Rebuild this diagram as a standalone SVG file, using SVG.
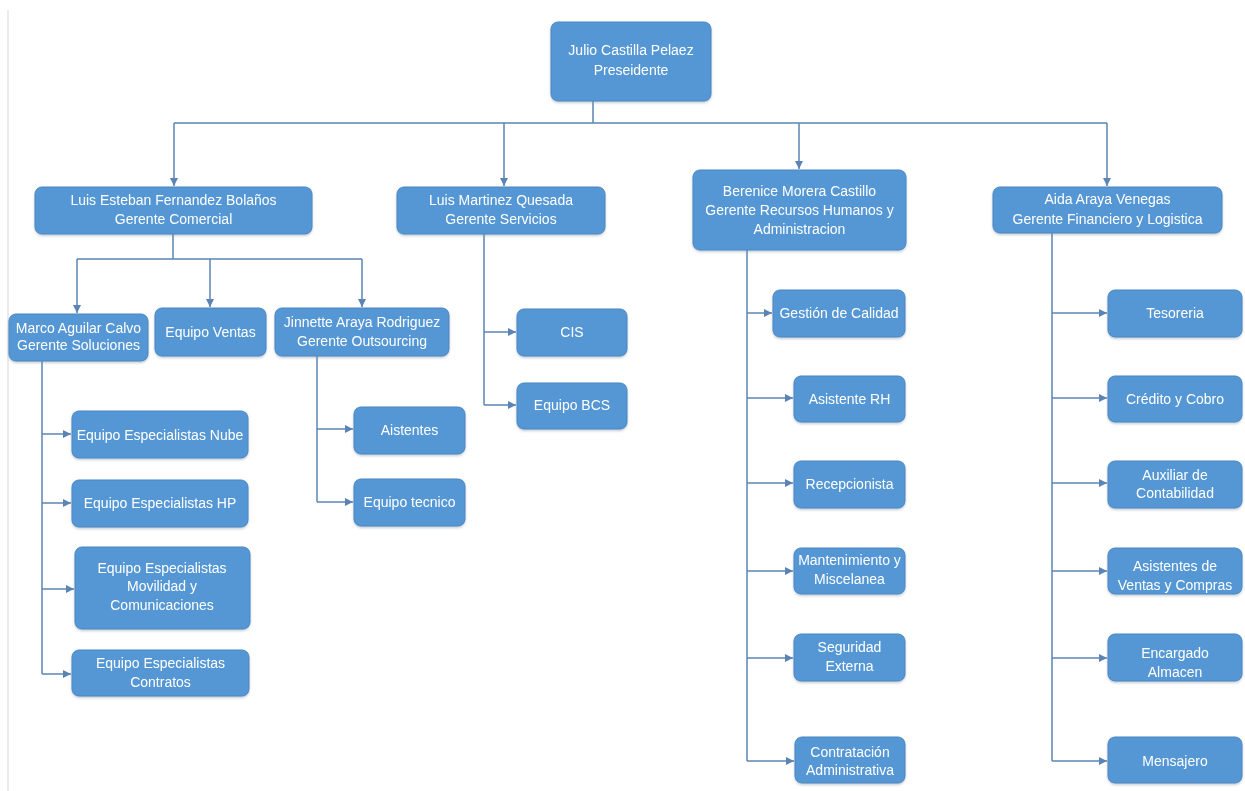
<svg xmlns="http://www.w3.org/2000/svg" width="1245" height="791" viewBox="0 0 1245 791">
<style>
.box{fill:#5597d5;stroke:#4a87c2;stroke-width:1}
.t{font-family:"Liberation Sans",Arial,sans-serif;font-size:14px;fill:#ffffff;text-anchor:middle}
.c{fill:none;stroke:#5b84b5;stroke-width:1.5}
.a{fill:none;stroke:#5b84b5;stroke-width:1.5;marker-end:url(#ah)}
</style>
<defs>
<marker id="ah" markerUnits="userSpaceOnUse" markerWidth="10" markerHeight="10" refX="8" refY="4" orient="auto">
<path d="M0,0 L8,4 L0,8 Z" fill="#5b84b5"/>
</marker>
<filter id="sh" x="-10%" y="-10%" width="120%" height="130%">
<feDropShadow dx="0" dy="1.5" stdDeviation="1.2" flood-color="#7a8ea5" flood-opacity="0.45"/>
</filter>
</defs>
<rect width="1245" height="791" fill="#ffffff"/>
<line x1="8" y1="10" x2="8" y2="791" stroke="#e4e4e4" stroke-width="1.5"/>

<g id="connectors">
<path class="c" d="M593,101 V123 M174,123 H1107"/>
<path class="a" d="M174,123 V186"/>
<path class="a" d="M504,123 V186"/>
<path class="a" d="M799,123 V169"/>
<path class="a" d="M1107,123 V186"/>

<path class="c" d="M173,234 V259 M77,259 H362"/>
<path class="a" d="M77,259 V313"/>
<path class="a" d="M210,259 V307"/>
<path class="a" d="M362,259 V307"/>

<path class="c" d="M42,361 V674"/>
<path class="a" d="M42,434 H71"/>
<path class="a" d="M42,503 H71"/>
<path class="a" d="M42,589 H74"/>
<path class="a" d="M42,674 H71"/>

<path class="c" d="M317,356 V502"/>
<path class="a" d="M317,429 H353"/>
<path class="a" d="M317,502 H353"/>

<path class="c" d="M484,234 V405"/>
<path class="a" d="M484,332 H516"/>
<path class="a" d="M484,405 H516"/>

<path class="c" d="M747,250 V761"/>
<path class="a" d="M747,313 H772"/>
<path class="a" d="M747,398 H793"/>
<path class="a" d="M747,483 H793"/>
<path class="a" d="M747,571 H793"/>
<path class="a" d="M747,658 H793"/>
<path class="a" d="M747,761 H794"/>

<path class="c" d="M1052,233 V761"/>
<path class="a" d="M1052,313 H1107"/>
<path class="a" d="M1052,398 H1107"/>
<path class="a" d="M1052,483 H1107"/>
<path class="a" d="M1052,571 H1107"/>
<path class="a" d="M1052,658 H1107"/>
<path class="a" d="M1052,761 H1107"/>
</g>

<g id="n-julio" filter="url(#sh)"><rect class="box" x="551" y="22" width="160" height="79" rx="7"/>
<text class="t" x="631" y="55">Julio Castilla Pelaez</text><text class="t" x="631" y="75">Preseidente</text></g>

<g id="n-luis-esteban" filter="url(#sh)"><rect class="box" x="35" y="187" width="277" height="47" rx="7"/>
<text class="t" x="173.5" y="205">Luis Esteban Fernandez Bolaños</text><text class="t" x="173.5" y="224">Gerente Comercial</text></g>

<g id="n-luis-martinez" filter="url(#sh)"><rect class="box" x="397" y="187" width="208" height="47" rx="7"/>
<text class="t" x="501" y="205">Luis Martinez Quesada</text><text class="t" x="501" y="224">Gerente Servicios</text></g>

<g id="n-berenice" filter="url(#sh)"><rect class="box" x="693" y="170" width="213" height="80" rx="7"/>
<text class="t" x="799.5" y="196">Berenice Morera Castillo</text><text class="t" x="799.5" y="215">Gerente Recursos Humanos y</text><text class="t" x="799.5" y="234">Administracion</text></g>

<g id="n-aida" filter="url(#sh)"><rect class="box" x="993" y="187" width="229" height="46" rx="7"/>
<text class="t" x="1107.5" y="204">Aida Araya Venegas</text><text class="t" x="1107.5" y="224">Gerente Financiero y Logistica</text></g>

<g id="n-marco" filter="url(#sh)"><rect class="box" x="9" y="314" width="139" height="47" rx="7"/>
<text class="t" x="78.5" y="333">Marco Aguilar Calvo</text><text class="t" x="78.5" y="350">Gerente Soluciones</text></g>

<g id="n-equipo-ventas" filter="url(#sh)"><rect class="box" x="155" y="308" width="111" height="48" rx="7"/>
<text class="t" x="210.5" y="337">Equipo Ventas</text></g>

<g id="n-jinnette" filter="url(#sh)"><rect class="box" x="275" y="308" width="174" height="48" rx="7"/>
<text class="t" x="362" y="327">Jinnette Araya Rodriguez</text><text class="t" x="362" y="346">Gerente Outsourcing</text></g>

<g id="n-nube" filter="url(#sh)"><rect class="box" x="72" y="411" width="176" height="47" rx="7"/>
<text class="t" x="160" y="440">Equipo Especialistas Nube</text></g>

<g id="n-hp" filter="url(#sh)"><rect class="box" x="72" y="480" width="176" height="47" rx="7"/>
<text class="t" x="160" y="508">Equipo Especialistas HP</text></g>

<g id="n-movilidad" filter="url(#sh)"><rect class="box" x="75" y="547" width="175" height="82" rx="7"/>
<text class="t" x="162" y="573">Equipo Especialistas</text><text class="t" x="162" y="591">Movilidad y</text><text class="t" x="162" y="610">Comunicaciones</text></g>

<g id="n-contratos" filter="url(#sh)"><rect class="box" x="72" y="650" width="177" height="46" rx="7"/>
<text class="t" x="160.5" y="668">Equipo Especialistas</text><text class="t" x="160.5" y="687">Contratos</text></g>

<g id="n-aistentes" filter="url(#sh)"><rect class="box" x="354" y="407" width="111" height="47" rx="7"/>
<text class="t" x="409.5" y="435">Aistentes</text></g>

<g id="n-equipo-tecnico" filter="url(#sh)"><rect class="box" x="354" y="479" width="111" height="47" rx="7"/>
<text class="t" x="409.5" y="507">Equipo tecnico</text></g>

<g id="n-cis" filter="url(#sh)"><rect class="box" x="517" y="309" width="110" height="47" rx="7"/>
<text class="t" x="572" y="337">CIS</text></g>

<g id="n-bcs" filter="url(#sh)"><rect class="box" x="517" y="383" width="110" height="46" rx="7"/>
<text class="t" x="572" y="410">Equipo BCS</text></g>

<g id="n-gestion" filter="url(#sh)"><rect class="box" x="773" y="290" width="132" height="47" rx="7"/>
<text class="t" x="839" y="318">Gestión de Calidad</text></g>

<g id="n-asistente-rh" filter="url(#sh)"><rect class="box" x="794" y="376" width="111" height="46" rx="7"/>
<text class="t" x="849.5" y="404">Asistente RH</text></g>

<g id="n-recepcionista" filter="url(#sh)"><rect class="box" x="794" y="461" width="111" height="47" rx="7"/>
<text class="t" x="849.5" y="489">Recepcionista</text></g>

<g id="n-mantenimiento" filter="url(#sh)"><rect class="box" x="794" y="548" width="111" height="46" rx="7"/>
<text class="t" x="849.5" y="565">Mantenimiento y</text><text class="t" x="849.5" y="584">Miscelanea</text></g>

<g id="n-seguridad" filter="url(#sh)"><rect class="box" x="794" y="634" width="111" height="47" rx="7"/>
<text class="t" x="849.5" y="652">Seguridad</text><text class="t" x="849.5" y="671">Externa</text></g>

<g id="n-contratacion" filter="url(#sh)"><rect class="box" x="795" y="737" width="110" height="46" rx="7"/>
<text class="t" x="850" y="757">Contratación</text><text class="t" x="850" y="775">Administrativa</text></g>

<g id="n-tesoreria" filter="url(#sh)"><rect class="box" x="1108" y="290" width="134" height="47" rx="7"/>
<text class="t" x="1175" y="318">Tesoreria</text></g>

<g id="n-credito" filter="url(#sh)"><rect class="box" x="1108" y="376" width="134" height="46" rx="7"/>
<text class="t" x="1175" y="404">Crédito y Cobro</text></g>

<g id="n-auxiliar" filter="url(#sh)"><rect class="box" x="1108" y="461" width="134" height="47" rx="7"/>
<text class="t" x="1175" y="480">Auxiliar de</text><text class="t" x="1175" y="498">Contabilidad</text></g>

<g id="n-asistentes-ventas" filter="url(#sh)"><rect class="box" x="1108" y="548" width="134" height="46" rx="7"/>
<text class="t" x="1175" y="571">Asistentes de</text><text class="t" x="1175" y="590">Ventas y Compras</text></g>

<g id="n-encargado" filter="url(#sh)"><rect class="box" x="1108" y="634" width="134" height="47" rx="7"/>
<text class="t" x="1175" y="658">Encargado</text><text class="t" x="1175" y="677">Almacen</text></g>

<g id="n-mensajero" filter="url(#sh)"><rect class="box" x="1108" y="737" width="134" height="46" rx="7"/>
<text class="t" x="1175" y="766">Mensajero</text></g>
</svg>
